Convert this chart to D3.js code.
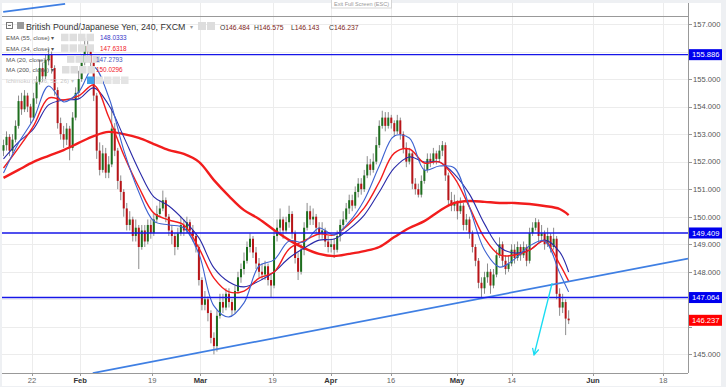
<!DOCTYPE html>
<html><head><meta charset="utf-8">
<script src="https://cdn.jsdelivr.net/npm/d3@7"></script>
<style>
html,body{margin:0;padding:0;background:#eef0f3;}
svg{display:block;font-family:"Liberation Sans",Arial,sans-serif;}
</style></head><body>
<svg id="c" width="726" height="387"></svg>
<script>
// ---- data (12h candles, GBP/JPY, Jan 15 – May 25 2018) ----
const firstOpen = 152.4;
const closes = [152.6,152.9,152.4,152.8,153.3,154.2,153.9,154.4,154.0,153.6,
154.3,154.9,155.4,155.1,155.7,155.9,155.4,154.6,153.4,153.0,
152.8,153.2,152.5,153.6,154.5,155.0,155.6,156.2,156.0,155.6,
154.4,152.4,151.7,152.3,151.6,151.9,153.2,152.4,151.3,150.9,
150.3,149.7,149.9,149.3,149.6,148.9,149.5,149.1,149.7,149.4,
149.9,150.1,150.3,150.6,150.0,149.5,149.3,148.9,149.4,149.7,
149.5,149.8,149.5,149.3,148.9,147.7,146.8,147.0,146.5,145.6,
145.3,146.4,146.9,146.7,147.2,146.9,146.6,147.3,147.8,148.1,
148.4,148.9,149.2,148.7,148.3,148.0,147.9,148.2,147.7,147.5,
149.3,149.6,149.9,149.5,149.8,150.1,149.4,148.5,148.0,148.8,
149.6,150.2,149.9,150.0,149.6,149.4,149.5,149.1,148.9,149.0,
148.8,149.3,149.7,149.9,150.3,150.6,150.4,150.9,151.2,151.0,
151.5,151.9,151.7,152.0,152.6,153.3,153.6,153.3,153.6,153.4,
153.1,153.5,153.0,152.5,152.0,152.3,151.2,151.0,150.8,151.3,
151.7,152.1,152.0,152.3,152.1,152.4,152.6,151.5,150.6,150.4,
150.5,150.2,150.4,149.7,149.9,149.4,148.9,148.4,147.6,147.4,
147.8,148.0,147.5,147.9,148.6,149.0,148.4,148.1,148.3,148.8,
148.5,148.9,148.6,148.9,148.4,149.4,149.6,149.8,149.3,149.4,
149.0,149.3,148.9,149.2,147.2,146.7,146.9,146.3,146.237];
const highs = [152.8,153.1,153.0,153.0,153.5,154.4,154.5,154.6,154.5,154.1,
154.5,155.1,155.7,155.6,155.9,156.1,156.0,155.5,154.7,153.6,
153.3,153.4,153.3,153.8,154.7,155.3,155.9,156.5,156.4,156.2,
155.7,154.5,152.7,152.6,152.5,152.2,154.0,153.4,152.5,151.5,
151.0,150.5,150.2,150.0,149.9,149.7,149.7,149.7,149.9,149.9,
150.1,150.4,150.6,150.95,150.7,150.1,149.7,149.4,149.6,150.0,
149.9,150.0,149.9,149.7,149.4,149.0,147.8,147.3,147.1,146.6,
145.8,146.6,147.2,147.2,147.4,147.4,147.0,147.5,148.0,148.3,
148.7,149.1,149.4,149.3,148.9,148.5,148.3,148.4,148.3,147.9,
149.5,149.9,150.3,150.0,150.0,150.4,150.2,149.5,148.7,149.0,
149.8,150.5,150.4,150.3,150.1,149.8,149.8,149.6,149.3,149.2,
149.2,149.5,149.9,150.2,150.5,150.8,150.8,151.1,151.4,151.4,
151.7,152.2,152.1,152.3,152.9,153.5,153.85,153.8,153.8,153.7,
153.5,153.7,153.6,153.1,152.7,152.5,152.4,151.4,151.2,151.5,
151.9,152.3,152.3,152.5,152.4,152.6,152.75,152.7,151.6,150.9,
150.8,150.6,150.7,150.5,150.1,150.0,149.5,149.0,148.5,147.8,
148.0,148.3,148.1,148.1,148.8,149.25,149.1,148.6,148.6,149.0,
149.0,149.1,149.0,149.1,149.0,149.6,149.8,149.95,149.9,149.7,
149.5,149.6,149.4,149.6,149.3,147.4,147.2,147.0,146.6];
const lows = [152.2,152.4,152.2,152.3,152.7,153.2,153.7,153.8,153.8,153.4,
153.5,154.1,154.8,154.9,155.0,155.5,155.2,154.4,153.2,152.8,
152.5,152.6,152.05,152.4,153.5,154.3,154.9,155.5,155.7,155.3,
154.2,152.1,151.5,151.6,151.4,151.4,151.8,152.2,151.0,150.6,
150.0,149.5,149.5,149.1,149.1,148.1,148.8,148.9,149.0,149.2,
149.3,149.8,150.0,150.2,149.8,149.3,149.0,148.6,148.8,149.3,
149.3,149.4,149.3,149.1,148.7,147.5,146.6,146.6,146.2,145.4,
145.0,145.1,146.3,146.5,146.6,146.7,146.4,146.5,147.2,147.6,
147.9,148.3,148.7,148.5,148.1,147.8,147.7,147.7,147.5,147.06,
147.4,149.1,149.4,149.2,149.4,149.6,149.2,148.3,147.7,147.9,
148.6,149.5,149.7,149.7,149.4,149.2,149.2,148.9,148.7,148.7,
148.5,148.7,149.1,149.5,149.8,150.1,150.2,150.3,150.7,150.8,
150.9,151.4,151.5,151.6,151.9,152.5,153.2,153.1,153.2,153.2,
152.9,153.0,152.8,152.3,151.8,151.9,151.0,150.8,150.7,150.7,
151.2,151.6,151.8,151.9,151.9,152.0,152.2,151.3,150.4,150.2,
150.2,149.9,150.1,149.5,149.5,149.2,148.7,148.2,147.4,147.08,
147.2,147.6,147.2,147.4,147.8,148.5,148.2,147.9,148.0,148.2,
148.3,148.4,148.4,148.5,148.2,148.3,149.3,149.5,149.1,149.1,
148.8,148.9,148.7,148.8,147.0,146.4,146.5,145.7,146.1];

// indicator readings, sampled at these candle indices
const maIndex = [0,5,10,15,20,25,30,35,40,45,50,55,60,65,70,75,80,85,90,95,100,105,110,115,120,125,130,135,140,145,150,155,160,165,170,175,180,185,188];
const ma200 = [151.41,151.70,151.99,152.21,152.42,152.68,152.93,153.08,153.00,152.86,152.64,152.42,152.28,151.99,151.33,150.75,150.24,149.92,149.52,149.15,148.86,148.65,148.57,148.65,148.75,148.90,149.26,149.59,149.84,150.21,150.50,150.57,150.54,150.50,150.50,150.46,150.39,150.28,150.06];
const ema55 = [152.10,152.71,153.19,154.06,154.24,154.28,154.68,154.06,152.90,151.70,150.72,150.39,149.88,149.23,148.14,147.63,147.45,147.66,147.99,148.50,148.86,149.15,149.19,149.55,150.06,150.90,151.77,152.17,151.99,151.99,151.55,150.82,149.74,148.90,148.68,148.79,149.15,148.72,147.99];
const ema34 = [151.77,152.50,153.30,154.31,154.24,154.39,154.78,153.62,152.24,151.08,150.13,149.88,149.70,148.86,147.77,147.27,147.30,147.77,147.99,148.83,149.12,149.37,149.34,149.74,150.32,151.26,152.31,152.46,151.95,151.99,151.41,150.35,149.23,148.61,148.61,148.79,149.12,148.28,147.66];
const ma20 = [151.59,152.68,153.55,154.75,154.17,154.53,155.44,154.35,152.42,150.90,149.84,149.70,149.59,148.65,146.76,146.36,146.87,148.21,148.43,149.12,149.08,149.59,149.34,149.81,150.61,151.84,152.93,152.86,151.70,151.84,151.77,150.35,148.79,148.17,148.46,148.94,149.12,147.96,147.27];

const priceTicks = [145,146,147,148,149,150,151,152,153,154,155,156,157];
const dateTickDays = [5,13,25,33,45,54.7,64.7,75.7,84.8,98.3,110];
const dateTickLabels = ["22","Feb","19","Mar","19","Apr","16","May","14","Jun","18"];
const monthNames = ["Feb","Mar","Apr","May","Jun"];
const hLevels = [155.886,149.409,147.064];
const lastPrice = 146.237;
const trendLine = [[15.1,144.32],[114.1,148.48]];
const upperTrend = [[0.2,157.44],[10.5,157.73]];
const arrowLine = [[91.5,147.59],[88.5,144.98]];
const legendRows = [
  {name:"EMA (55, close)", value:"148.0333", color:"#3535c8"},
  {name:"EMA (34, close)", value:"147.6318", color:"#f0202a"},
  {name:"MA (20, close)", value:"147.2793", color:"#4657b8"},
  {name:"MA (200, close)", value:"150.0296", color:"#f0202a"}
];
const ohlc = [["O","146.484"],["H","146.575"],["L","146.143"],["C","146.237"]];

// ---- drawing ----
const svg = d3.select("#c");
const P = {l:2, r:688, t:16, b:373};
const x = d3.scaleLinear().domain([0,114.1]).range([P.l,P.r]);
const y = d3.scaleLinear().domain([145,157]).range([354.36,24]);
const tOf = i => 0.25 + 0.5*i;

svg.append("rect").attr("x",2).attr("y",3).attr("width",719).attr("height",383).attr("fill","#fff");

// grid
svg.append("g").selectAll("line").data(dateTickDays).join("line")
  .attr("x1",d=>Math.round(x(d))+0.5).attr("x2",d=>Math.round(x(d))+0.5)
  .attr("y1",3).attr("y2",P.b).attr("stroke","#ececec");
svg.append("g").selectAll("line").data(priceTicks).join("line")
  .attr("x1",P.l).attr("x2",P.r)
  .attr("y1",d=>Math.round(y(d))+0.5).attr("y2",d=>Math.round(y(d))+0.5).attr("stroke","#ececec");

// frame lines
svg.append("line").attr("x1",P.l).attr("x2",P.r).attr("y1",P.t+0.5).attr("y2",P.t+0.5).attr("stroke","#999");
svg.append("line").attr("x1",P.r+0.5).attr("x2",P.r+0.5).attr("y1",3).attr("y2",P.b).attr("stroke","#999");
svg.append("line").attr("x1",P.l).attr("x2",P.r).attr("y1",P.b+0.5).attr("y2",P.b+0.5).attr("stroke","#999");

svg.append("clipPath").attr("id","pc").append("rect")
  .attr("x",P.l).attr("y",P.t+1).attr("width",P.r-P.l).attr("height",P.b-P.t-1);
const plot = svg.append("g").attr("clip-path","url(#pc)");

// candles
const candles = closes.map((c,i)=>({t:tOf(i), o: i?closes[i-1]:firstOpen, h:highs[i], l:lows[i], c}));
plot.append("g").selectAll("line").data(candles).join("line")
  .attr("x1",d=>x(d.t)).attr("x2",d=>x(d.t))
  .attr("y1",d=>y(d.h)).attr("y2",d=>y(d.l))
  .attr("stroke","#8c8c8c").attr("stroke-width",1);
plot.append("g").selectAll("rect").data(candles).join("rect")
  .attr("x",d=>x(d.t)-1).attr("width",2)
  .attr("y",d=>y(Math.max(d.o,d.c)))
  .attr("height",d=>Math.max(1,Math.abs(y(d.o)-y(d.c))))
  .attr("fill",d=>d.c>=d.o?"#1e6e1e":"#b81418");

// moving averages
const maLine = arr => d3.line()
  .x((d,i)=>x(tOf(maIndex[i]))).y(d=>y(d))
  .curve(d3.curveCatmullRom.alpha(0.5))(arr);
plot.append("path").attr("d",maLine(ma200)).attr("fill","none").attr("stroke","#f21d1d").attr("stroke-width",2.4);
plot.append("path").attr("d",maLine(ema55)).attr("fill","none").attr("stroke","#2a2aa8").attr("stroke-width",1.1);
plot.append("path").attr("d",maLine(ema34)).attr("fill","none").attr("stroke","#f21d1d").attr("stroke-width",1.4);
plot.append("path").attr("d",maLine(ma20)).attr("fill","none").attr("stroke","#3d62d0").attr("stroke-width",1.1);

// trend lines
plot.append("line")
  .attr("x1",x(trendLine[0][0])).attr("y1",y(trendLine[0][1]))
  .attr("x2",x(trendLine[1][0])).attr("y2",y(trendLine[1][1]))
  .attr("stroke","#3f7fe3").attr("stroke-width",1.8);
svg.append("line")
  .attr("x1",x(upperTrend[0][0])).attr("y1",y(upperTrend[0][1]))
  .attr("x2",x(upperTrend[1][0])).attr("y2",y(upperTrend[1][1]))
  .attr("stroke","#3f7fe3").attr("stroke-width",1.8);

// horizontal levels
svg.append("g").selectAll("line").data(hLevels).join("line")
  .attr("x1",P.l).attr("x2",P.r)
  .attr("y1",d=>y(d)).attr("y2",d=>y(d))
  .attr("stroke","#1616e8").attr("stroke-width",1.4);

// arrow
const defs = svg.append("defs");
defs.append("marker").attr("id","ah").attr("viewBox","0 0 10 10").attr("refX",9).attr("refY",5)
  .attr("markerWidth",8).attr("markerHeight",8).attr("markerUnits","userSpaceOnUse").attr("orient","auto")
  .append("path").attr("d","M1,1 L9,5 L1,9").attr("fill","none").attr("stroke","#19dcf2").attr("stroke-width",1.6);
svg.append("line")
  .attr("x1",x(arrowLine[0][0])).attr("y1",y(arrowLine[0][1]))
  .attr("x2",x(arrowLine[1][0])).attr("y2",y(arrowLine[1][1]))
  .attr("stroke","#19dcf2").attr("stroke-width",1.4).attr("marker-end","url(#ah)");

// right axis (tick labels hidden where a price box covers them, as in the reference)
const boxes = hLevels.map(v=>({v,c:"#0000ee"})).concat([{v:lastPrice,c:"#ff0000"}]);
const covered = d => boxes.some(b=>Math.abs(y(b.v)-y(d))<10);
const ra = svg.append("g");
ra.selectAll("line").data(priceTicks).join("line")
  .attr("x1",P.r).attr("x2",P.r+4).attr("y1",d=>Math.round(y(d))+0.5).attr("y2",d=>Math.round(y(d))+0.5).attr("stroke","#999");
ra.selectAll("text").data(priceTicks.filter(d=>!covered(d))).join("text")
  .attr("x",P.r+5).attr("y",d=>y(d)+2.8).attr("font-size",7.6).attr("fill","#555")
  .text(d=>d3.format(".3f")(d));
const bg = svg.append("g").selectAll("g").data(boxes).join("g");
bg.append("rect").attr("x",P.r+1).attr("y",d=>y(d.v)-5.5).attr("width",33).attr("height",11).attr("fill",d=>d.c);
bg.append("text").attr("x",P.r+4).attr("y",d=>y(d.v)+2.8).attr("font-size",7.6).attr("fill","#fff")
  .text(d=>d3.format(".3f")(d.v));

// bottom axis
svg.append("g").selectAll("line").data(dateTickDays).join("line")
  .attr("x1",d=>Math.round(x(d))+0.5).attr("x2",d=>Math.round(x(d))+0.5)
  .attr("y1",P.b).attr("y2",P.b+3).attr("stroke","#999");
svg.append("g").selectAll("text").data(dateTickLabels).join("text")
  .attr("x",(d,i)=>x(dateTickDays[i])).attr("y",P.b+10).attr("text-anchor","middle")
  .attr("font-size",7.6).attr("fill",d=>monthNames.includes(d)?"#333":"#666")
  .attr("font-weight",d=>monthNames.includes(d)?"bold":"normal").text(d=>d);

// exit full screen hint
svg.append("rect").attr("x",331.5).attr("y",-1).attr("width",60).attr("height",9).attr("fill","#fff").attr("stroke","#d6d6d6");
svg.append("text").attr("x",361.5).attr("y",5.5).attr("text-anchor","middle").attr("font-size",5.5).attr("fill","#999").text("Exit Full Screen (ESC)");

// header
const hd = svg.append("g");
hd.append("rect").attr("x",6.5).attr("y",22.5).attr("width",6).attr("height",6).attr("fill","none").attr("stroke","#777");
hd.append("line").attr("x1",8).attr("x2",11).attr("y1",25.5).attr("y2",25.5).attr("stroke","#777");
hd.append("rect").attr("x",17).attr("y",22).attr("width",7).attr("height",7).attr("fill","#999");
hd.append("text").attr("x",26).attr("y",30).attr("font-size",8.8).attr("fill","#333").text("British Pound/Japanese Yen, 240, FXCM");
hd.append("text").attr("x",190).attr("y",29).attr("font-size",6).attr("fill","#999").text("▾");
[198,207].forEach(v=>hd.append("rect").attr("x",v).attr("y",22).attr("width",8).attr("height",8).attr("fill","#ddd"));
const ox = [220,254,291,329];
ohlc.forEach((d,i)=>{
  const t = hd.append("text").attr("x",ox[i]).attr("y",30).attr("font-size",6.8);
  t.append("tspan").attr("fill","#333").text(d[0]);
  t.append("tspan").attr("fill","#7d2418").text(d[1]);
});

// legend
const lg = svg.append("g");
legendRows.forEach((r,i)=>{
  const by = [40,50.6,61.6,72.3][i];
  lg.append("text").attr("x",6).attr("y",by).attr("font-size",6.2).attr("fill","#555").text(r.name+" ▾");
  const ix = i<2?61:(i===2?67:62);
  for(let k=0;k<4;k++) lg.append("rect").attr("x",ix+k*8.5).attr("y",by-6.3).attr("width",7.5).attr("height",7.5).attr("fill","#dedede");
  lg.append("text").attr("x",i<2?100:96).attr("y",by).attr("font-size",6.4).attr("fill",r.color).text(r.value);
});
lg.append("text").attr("x",6).attr("y",82.5).attr("font-size",6).attr("fill","#c8c8c8").text("Ichimoku (9, 26, 52, 26) ▾");
lg.append("rect").attr("x",87).attr("y",76.5).attr("width",7.5).attr("height",7.5).attr("fill","#3fa0e8");
for(let k=1;k<5;k++) lg.append("rect").attr("x",87+k*8.5).attr("y",76.5).attr("width",7.5).attr("height",7.5).attr("fill","#e4e4e4");
</script>
</body></html>
